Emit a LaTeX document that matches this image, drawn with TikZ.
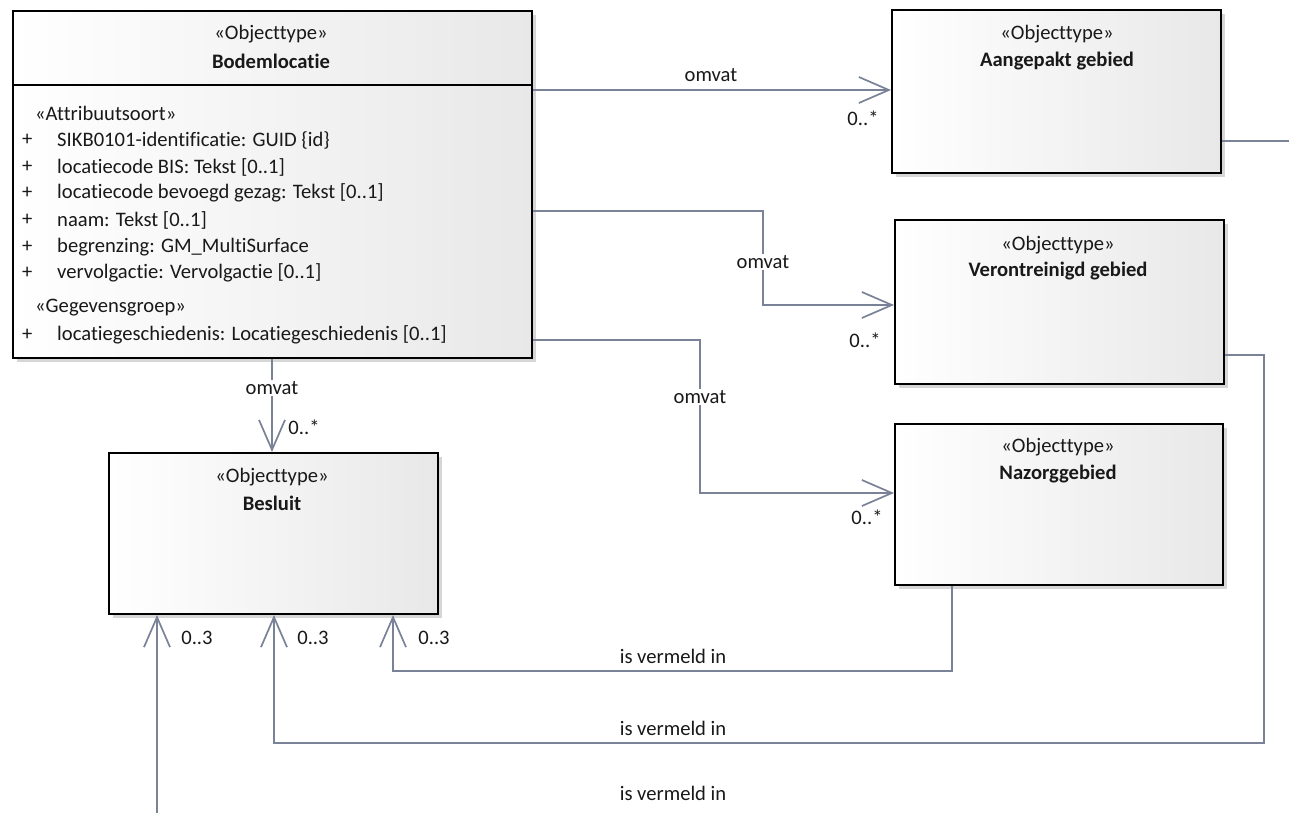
\documentclass[tikz,border=0pt]{standalone}
\usepackage{fontspec}
\setmainfont[Ligatures=NoCommon]{Carlito}
\usetikzlibrary{arrows.meta,shadows}
\definecolor{conncol}{RGB}{122,130,152}
\definecolor{txtcol}{RGB}{25,25,25}
\tikzset{
  umlbox/.style={draw=black, line width=2pt, left color=white, right color=black!9,
    drop shadow={shadow xshift=4pt, shadow yshift=-4pt, fill=black!35, opacity=0.45},
    inner sep=0pt, anchor=north west},
  stereo/.style={font=\fontsize{20.6}{24}\selectfont, text=txtcol, inner sep=0pt},
  cname/.style={font=\fontsize{20.6}{24}\selectfont\bfseries, text=txtcol, inner sep=0pt},
  attr/.style={font=\fontsize{20.6}{24}\selectfont, text=txtcol, inner sep=0pt, anchor=west},
  lbl/.style={font=\fontsize{20.6}{24}\selectfont, text=txtcol, inner sep=1pt},
  conn/.style={draw=conncol, line width=1.7pt},
  openarr/.style={-{Straight Barb[length=30pt,width=26pt,line width=1.7pt]}}
}
\begin{document}
\begin{tikzpicture}[x=1pt,y=-1pt]
\useasboundingbox[fill=white] (0,0) rectangle (1289,813);

% boxes
\node[umlbox, minimum width=519pt, minimum height=347pt] (bodem) at (12,10) {};
\draw[black, line width=2pt] (bodem.west |- 0,85) -- (bodem.east |- 0,85);
\node[umlbox, minimum width=329pt, minimum height=163pt] (aang) at (891,9) {};
\node[umlbox, minimum width=329pt, minimum height=164pt] (vero) at (894,219) {};
\node[umlbox, minimum width=328pt, minimum height=161pt] (nazorg) at (894,423) {};
\node[umlbox, minimum width=329pt, minimum height=161pt] (besl) at (108,452) {};

% box texts
\node[stereo] (bodemS) at (271,34) {«Objecttype»};
\node[cname] (bodemN) at (271,61) {Bodemlocatie};
\node[attr] (st1) at (35,113) {«Attribuutsoort»};
\node[attr] (p1) at (22,140) {+};
\node[attr] (a1) at (57,140) {SIKB0101-identificatie: GUID \{id\}};
\node[attr] (p2) at (22,167) {+};
\node[attr] (a2) at (57,167) {locatiecode BIS: Tekst [0..1]};
\node[attr] (p3) at (22,193) {+};
\node[attr] (a3) at (57,193) {locatiecode bevoegd gezag: Tekst [0..1]};
\node[attr] (p4) at (22,220) {+};
\node[attr] (a4) at (57,220) {naam: Tekst [0..1]};
\node[attr] (p5) at (22,247) {+};
\node[attr] (a5) at (57,247) {begrenzing: GM\_MultiSurface};
\node[attr] (p6) at (22,273) {+};
\node[attr] (a6) at (57,273) {vervolgactie: Vervolgactie [0..1]};
\node[attr] (st2) at (35,308) {«Gegevensgroep»};
\node[attr] (p7) at (22,335) {+};
\node[attr] (a7) at (57,335) {locatiegeschiedenis: Locatiegeschiedenis [0..1]};

\node[stereo] (aangS) at (1057,34) {«Objecttype»};
\node[cname] (aangN) at (1057,61) {Aangepakt gebied};
\node[stereo] (veroS) at (1058,245) {«Objecttype»};
\node[cname] (veroN) at (1058,271) {Verontreinigd gebied};
\node[stereo] (nazorgS) at (1058,447) {«Objecttype»};
\node[cname] (nazorgN) at (1058,474) {Nazorggebied};
\node[stereo] (beslS) at (272,477) {«Objecttype»};
\node[cname] (beslN) at (272,503) {Besluit};

% free ends
\coordinate (rt) at (1289,141);
\coordinate (bot) at (157,813);

% connectors
\draw[conn, openarr] (bodem.east |- 0,90) -- (aang.west |- 0,90);
\draw[conn, openarr] (bodem.east |- 0,211) -| (763,305) -- (vero.west |- 0,305);
\draw[conn, openarr] (bodem.east |- 0,340) -| (700,493) -- (nazorg.west |- 0,493);
\draw[conn, openarr] (bodem.south -| 272,0) -- (besl.north -| 272,0);
\draw[conn, openarr] (nazorg.south -| 952,0) |- (393,671) -- (besl.south -| 393,0);
\draw[conn, openarr] (vero.east |- 0,355) -| (1264,743) -| (besl.south -| 274,0);
\draw[conn, openarr] (bot) -- (besl.south -| 157,0);
\draw[conn] (aang.east |- 0,141) -- (rt);

% labels
\node[lbl] (o1) at (711,75) {omvat};
\node[lbl, fill=white] (o2) at (763,262) {omvat};
\node[lbl, fill=white] (o3) at (700,397) {omvat};
\node[lbl, fill=white] (o4) at (272,388) {omvat};
\node[lbl] (m1) at (863,118) {0..*};
\node[lbl] (m2) at (865,340) {0..*};
\node[lbl] (m3) at (867,517) {0..*};
\node[lbl] (m4) at (304,427) {0..*};
\node[lbl] (r1) at (197,638) {0..3};
\node[lbl] (r2) at (313,638) {0..3};
\node[lbl] (r3) at (434,638) {0..3};
\node[lbl] (v1) at (673,656) {is vermeld in};
\node[lbl] (v2) at (673,728) {is vermeld in};
\node[lbl] (v3) at (673,793) {is vermeld in};
\end{tikzpicture}
\end{document}
